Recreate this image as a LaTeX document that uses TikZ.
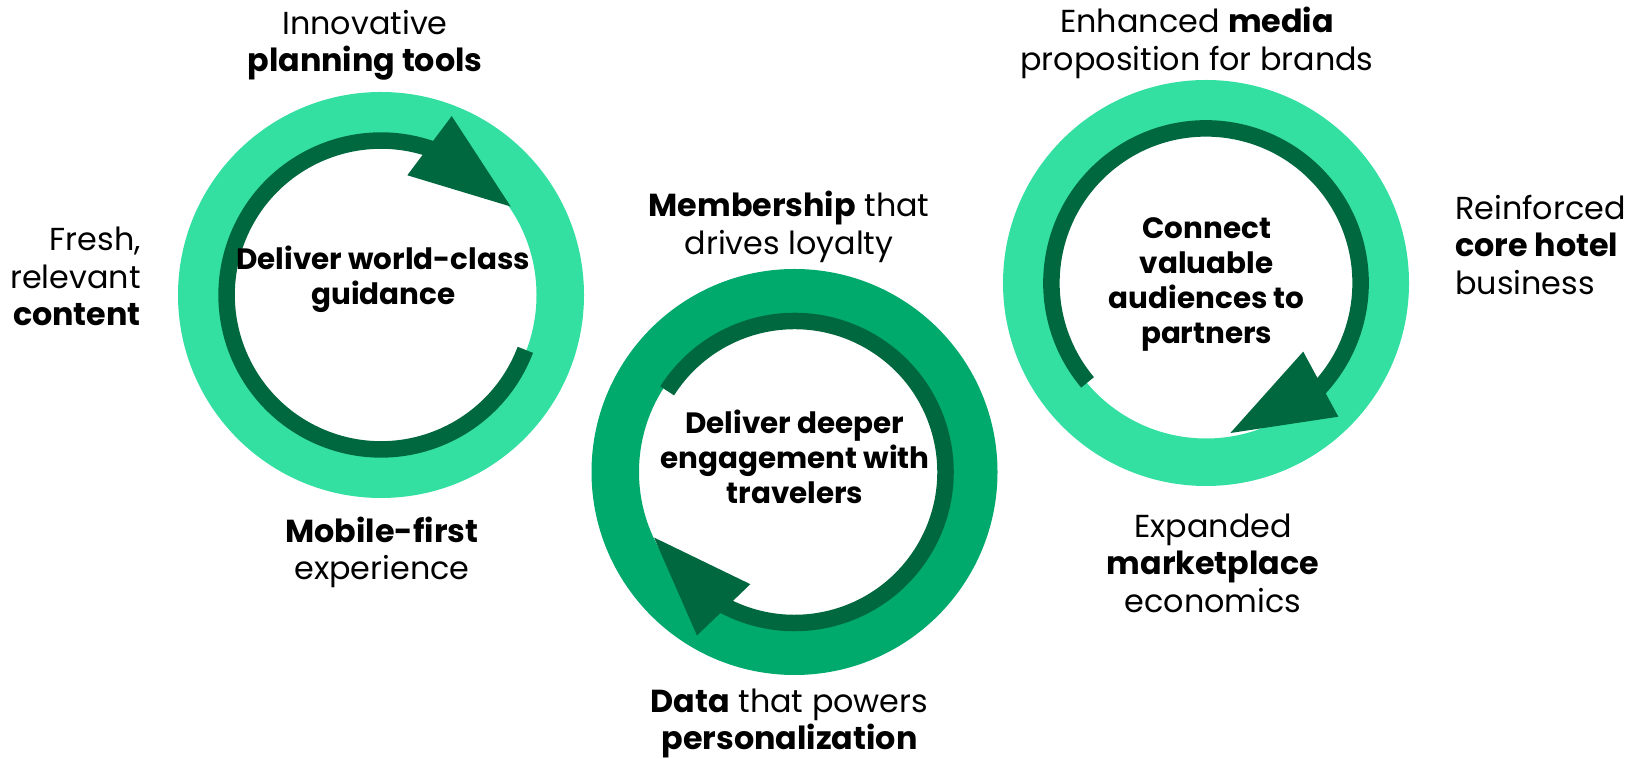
\documentclass[tikz,border=0pt]{standalone}
\usepackage{fontspec}
\setmainfont{Poppins}
\usetikzlibrary{calc}
\definecolor{mint}{HTML}{34E0A1}
\definecolor{tagreen}{HTML}{00AA6C}
\definecolor{deep}{HTML}{00683F}
\newcommand{\blk}[2]{\begin{tabular}[t]{@{}#1@{}}#2\end{tabular}}
\begin{document}
\begin{tikzpicture}[x=1pt,y=1pt,
  ring/.style={line width=47.5pt},
  darkarc/.style={draw=deep, line width=16.5pt},
  head/.style={fill=deep},
  lbl/.style={inner sep=0pt, font=\fontsize{31.8}{37.5}\selectfont},
  inlbl/.style={inner sep=0pt, font=\fontsize{29.4}{35}\selectfont\bfseries},
]
\useasboundingbox (0,0) rectangle (1629,759);

% centres
\coordinate (c1) at (381,464);
\coordinate (c2) at (794.5,287);
\coordinate (c3) at (1206,476);

% rings
\draw[mint, ring] (c1) circle[radius=179.25];
\draw[tagreen, ring] (c2) circle[radius=179.25];
\draw[mint, ring] (c3) circle[radius=179.25];

% circle 1 arrow
\draw[darkarc] ($(c1)+(339.2:154.4)$) arc[start angle=339.2, end angle=70, radius=154.4];
\coordinate (b1) at ($(c1)+(72:157)$);
\coordinate (t1) at ($(c1)+(34.3:157)$);
\fill[head] ($(b1)!37pt!90:(t1)$) -- (t1) -- ($(b1)!37pt!-90:(t1)$) -- cycle;

% circle 2 arrow
\draw[darkarc] ($(c2)+(147.5:151)$) arc[start angle=147.5, end angle=-119, radius=151];
\coordinate (b2) at ($(c2)+(-117.2:155)$);
\coordinate (t2) at ($(c2)+(-155:155)$);
\fill[head] ($(b2)!37pt!90:(t2)$) -- (t2) -- ($(b2)!37pt!-90:(t2)$) -- cycle;

% circle 3 arrow
\draw[darkarc] ($(c3)+(220:154.6)$) arc[start angle=220, end angle=-43.4, radius=154.6];
\coordinate (b3) at ($(c3)+(-41.4:153)$);
\coordinate (t3) at ($(c3)+(-80.8:152)$);
\fill[head] ($(b3)!37pt!90:(t3)$) -- (t3) -- ($(b3)!37pt!-90:(t3)$) -- cycle;

% inner texts
\node[inlbl, anchor=base] (in1) at (383.3,489) {\blk{c}{Deliver world-class\\guidance}};
\node[inlbl, anchor=base] (in2) at (795,325.7) {\blk{c}{Deliver deeper\\engagement with\\travelers}};
\node[inlbl, anchor=base] (in3) at (1206.7,520.7) {\blk{c}{Connect\\valuable\\audiences to\\partners}};

% outer labels
\node[lbl, anchor=base] (l1) at (365,724.7) {\blk{c}{Innovative\\\textbf{planning tools}}};
\node[lbl, anchor=base east] (l2) at (141,508.3) {\blk{r}{Fresh,\\relevant\\\textbf{content}}};
\node[lbl, anchor=base] (l3) at (382,216.5) {\blk{c}{\textbf{Mobile-first}\\experience}};
\node[lbl, anchor=base] (l4) at (789,542.3) {\blk{c}{\textbf{Membership} that\\drives loyalty}};
\node[lbl, anchor=base] (l5) at (789.5,46.5) {\blk{c}{\textbf{Data} that powers\\\textbf{personalization}}};
\node[lbl, anchor=base] (l6) at (1197,726) {\blk{c}{Enhanced \textbf{media}\\proposition for brands}};
\node[lbl, anchor=base west] (l7) at (1455,539.7) {\blk{l}{Reinforced\\\textbf{core hotel}\\business}};
\node[lbl, anchor=base] (l8) at (1213,221.7) {\blk{c}{Expanded\\\textbf{marketplace}\\economics}};
\end{tikzpicture}
\end{document}
